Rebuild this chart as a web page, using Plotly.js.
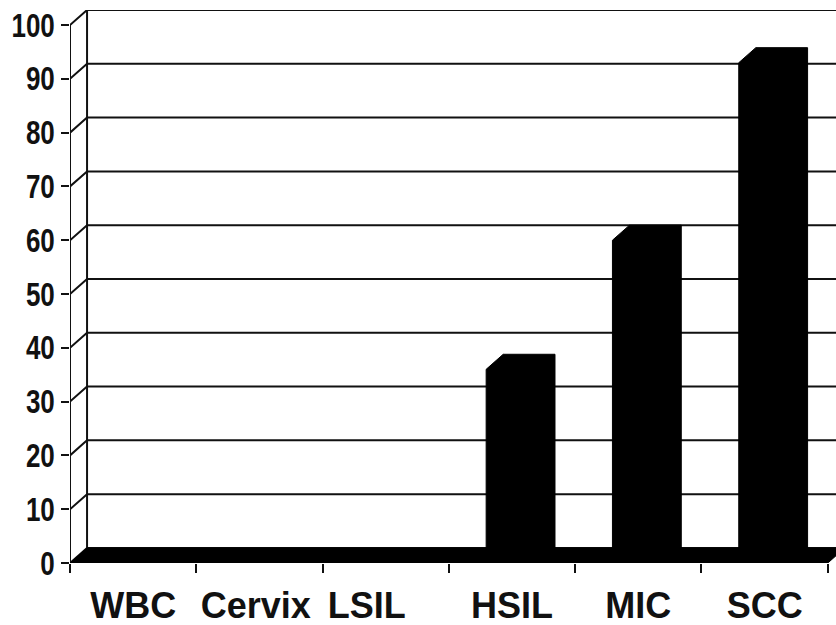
<!DOCTYPE html>
<html>
<head>
<meta charset="utf-8">
<script src="https://cdn.plot.ly/plotly-3.0.1.min.js"></script>
<style>
  html, body { margin: 0; padding: 0; background: #fff; overflow: hidden; }
  #chart { width: 836px; height: 625px; }
</style>
</head>
<body>
<div id="chart"></div>
<script>
// Category names and their values (percent)
const categories = ['WBC', 'Cervix', 'LSIL', 'HSIL', 'MIC', 'SCC'];
const values = [0, 0, 0, 36, 60, 93];
const yTicks = [0, 10, 20, 30, 40, 50, 60, 70, 80, 90, 100];
// Small horizontal nudges for the category labels (axis units)
const labelNudge = [0, -0.03, -0.15, 0, 0, 0];

// Pseudo-3D depth offset (in axis units) and bar front width
const DX = 0.135;
const DY = 2.8;
const BAR_W = 0.41;
const X0 = -0.5;
const X1 = categories.length - 0.5;
const XMAX = 5.565;
const INK = '#111111';

const traces = [];

// Back wall gridlines plus the short diagonal joins to the front axis
const gx = [], gy = [];
yTicks.forEach(v => {
  gx.push(X0, X0 + DX, XMAX, null);
  gy.push(v, v + DY, v + DY, null);
});
// back wall vertical edge
gx.push(X0 + DX, X0 + DX, null);
gy.push(DY, 100 + DY, null);
// front value axis
gx.push(X0, X0, null);
gy.push(0, 100, null);
traces.push({
  type: 'scatter', mode: 'lines', x: gx, y: gy,
  line: { color: INK, width: 2 }, hoverinfo: 'skip', cliponaxis: false
});

// Floor slab
traces.push({
  type: 'scatter', mode: 'lines', fill: 'toself',
  x: [X0, X0 + DX, X1 + DX, X1, X0],
  y: [0, DY, DY, 0, 0],
  fillcolor: '#000', line: { color: '#000', width: 1 }, hoverinfo: 'skip'
});

// Columns: front face + top + side drawn as a single black outline
categories.forEach((c, i) => {
  const v = values[i];
  if (v <= 0) return;
  const xl = i - BAR_W / 2, xr = i + BAR_W / 2;
  traces.push({
    type: 'scatter', mode: 'lines', fill: 'toself', name: c,
    x: [xl, xl, xl + DX, xr + DX, xr + DX, xr, xl],
    y: [0, v, v + DY, v + DY, DY, 0, 0],
    fillcolor: '#000', line: { color: '#000', width: 1 },
    hovertemplate: c + ': %{customdata}<extra></extra>',
    customdata: Array(7).fill(v)
  });
});

const layout = {
  width: 836, height: 625,
  margin: { l: 70, r: 0, t: 10, b: 62 },
  paper_bgcolor: '#fff', plot_bgcolor: '#fff',
  showlegend: false,
  xaxis: {
    range: [X0, XMAX], fixedrange: true,
    showgrid: false, zeroline: false, showline: false,
    tickmode: 'array', tickvals: categories.map((_, i) => i + labelNudge[i]), ticktext: categories,
    ticks: '', ticklabelstandoff: 18,
    tickfont: { family: 'Liberation Sans, Arial, sans-serif', size: 36, weight: 'bold', color: INK },
    minor: {
      tickmode: 'array',
      tickvals: categories.map((_, i) => i - 0.5).concat([X1]),
      ticks: 'outside', ticklen: 9, tickwidth: 2, tickcolor: INK
    }
  },
  yaxis: {
    range: [0, 100 + DY], fixedrange: true,
    showgrid: false, zeroline: false, showline: false,
    tickmode: 'array', tickvals: yTicks,
    ticks: 'outside', ticklen: 8, tickwidth: 2, tickcolor: INK,
    ticklabelstandoff: 1,
    tickfont: { family: 'Liberation Sans, Arial, sans-serif', size: 26, weight: 'bold', color: INK }
  }
};

// Value labels use a tall, condensed look: stretch each one vertically about its centre
function stretchYLabels(gd, k) {
  gd.querySelectorAll('.ytick text').forEach(t => {
    const b = t.getBBox();
    const cx = b.x + b.width, cy = b.y + b.height / 2;
    const base = t.getAttribute('transform') || '';
    t.setAttribute('transform',
      base + ` translate(${cx},${cy}) scale(1,${k}) translate(${-cx},${-cy})`);
  });
}

Plotly.newPlot('chart', traces, layout, { displayModeBar: false, staticPlot: true })
  .then(gd => stretchYLabels(gd, 1.27));
</script>
</body>
</html>
